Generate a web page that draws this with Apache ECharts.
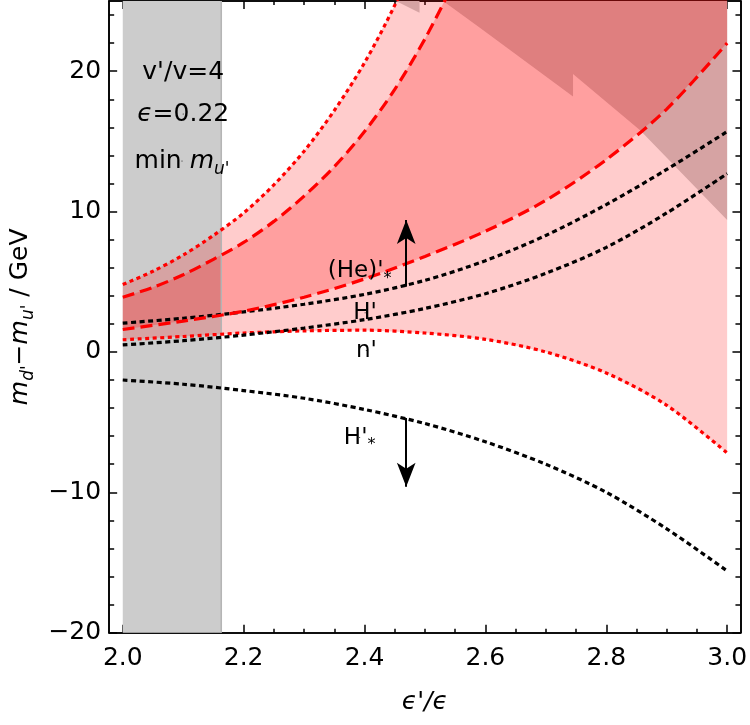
<!DOCTYPE html>
<html>
<head>
<meta charset="utf-8">
<script src="https://cdn.jsdelivr.net/npm/echarts@6/dist/echarts.min.js"></script>
<style>
  html, body { margin: 0; padding: 0; background: #fff; }
  #chart { width: 750px; height: 725px; }
</style>
</head>
<body>
<div id="chart"></div>
<script>
  // slow curves, read every 0.1
  var xs = [2.0, 2.1, 2.2, 2.3, 2.4, 2.5, 2.6, 2.7, 2.8, 2.9, 3.0];
  var heStar = [2.05, 2.4, 2.85, 3.4, 4.1, 5.1, 6.5, 8.3, 10.5, 13.0, 15.7];   // (He)'* black dotted
  var hPrime = [0.5, 0.8, 1.2, 1.7, 2.3, 3.1, 4.15, 5.6, 7.45, 9.9, 12.7];     // H' black dotted
  var hStar = [-2.0, -2.3, -2.75, -3.3, -4.1, -5.1, -6.4, -8.0, -10.0, -12.6, -15.6]; // H'* black dotted
  var nPrime = [0.87, 1.1, 1.35, 1.5, 1.55, 1.35, 0.9, 0.0, -1.5, -3.8, -7.2]; // n' red dotted
  var redDashLow = [1.6, 2.2, 2.9, 3.9, 5.2, 6.8, 8.6, 10.8, 13.7, 17.3, 22.0];
  // steep curves, read every 0.05
  var xsDotUp = [2.0, 2.05, 2.1, 2.15, 2.2, 2.25, 2.3, 2.35, 2.4, 2.45, 2.5];
  var redDotUp = [4.8, 5.75, 6.9, 8.3, 9.9, 11.9, 14.3, 17.2, 20.6, 24.7, 29.6];
  var xsDashUp = [2.0, 2.05, 2.1, 2.15, 2.2, 2.25, 2.3, 2.35, 2.4, 2.45, 2.5, 2.55];
  var redDashUp = [3.9, 4.6, 5.5, 6.6, 7.8, 9.3, 11.1, 13.2, 15.7, 18.7, 22.3, 26.5];
  // grey excluded regions
  var bandX = [2.0, 2.163];
  var greyEdgeX = [2.452, 2.491, 2.491, 2.530, 2.592, 2.745, 2.745, 2.856, 3.0];
  var greyEdgeY = [25, 24.17, 25, 25, 23.05, 18.19, 19.8, 15.8, 9.4];
  // ticks
  var xMajor = [2.0, 2.2, 2.4, 2.6, 2.8, 3.0];
  var xMinor = [];
  for (var k = 0; k <= 20; k++) xMinor.push(Math.round((2 + k * 0.05) * 100) / 100);
  var yMajor = [-20, -10, 0, 10, 20];
  var yMinor = [];
  for (var j = -20; j <= 24; j += 2) yMinor.push(j);
  // arrows
  var arrowX = 2.469;
  var arrowUp = [4.65, 9.4];
  var arrowDown = [-4.7, -9.6];

  var xMin = 1.9775, xMax = 3.022, yMin = -20, yMax = 25, yOver = 40;
  var font = 'DejaVu Sans';

  function pairs(x, y) {
    return x.map(function (v, i) { return [v, y[i]]; });
  }

  function polySeries(pts, color) {
    return {
      type: 'custom',
      z: 1,
      silent: true,
      data: [0],
      renderItem: function (params, api) {
        return {
          type: 'polygon',
          shape: { points: pts.map(function (p) { return api.coord(p); }) },
          style: { fill: color }
        };
      }
    };
  }

  function lineSeries(x, y, color, dash) {
    return {
      type: 'line',
      z: 3,
      data: pairs(x, y),
      showSymbol: false,
      symbol: 'none',
      smooth: 0.3,
      silent: true,
      lineStyle: { color: color, width: 3.2, type: dash }
    };
  }

  var bandPts = [[bandX[0], yMin], [bandX[1], yMin], [bandX[1], yMax], [bandX[0], yMax]];
  var greyPts = pairs(greyEdgeX, greyEdgeY).concat([[3.0, yMax], [2.452, yMax]]);
  var lightPts = pairs(xsDotUp, redDotUp).concat([[3.0, yOver]]).concat(pairs(xs, nPrime).reverse());
  var midPts = pairs(xsDashUp, redDashUp).concat([[3.0, yOver]]).concat(pairs(xs, redDashLow).reverse());

  var rich = {
    t: { fontSize: 25, fontFamily: font, color: '#000', lineHeight: 34 },
    i: { fontSize: 25, fontFamily: font, color: '#000', fontStyle: 'italic', lineHeight: 34 },
    s: { fontSize: 17, fontFamily: font, color: '#000', fontStyle: 'italic', lineHeight: 17, verticalAlign: 'bottom' },
    p: { fontSize: 23, fontFamily: font, color: '#000', lineHeight: 31 },
    ps: { fontSize: 16, fontFamily: font, color: '#000', lineHeight: 12, verticalAlign: 'bottom' }
  };

  var labels = [
    { value: [2.1, 19.94], label: { formatter: "{t|v'/v=4}" } },
    { value: [2.1, 16.95], label: { formatter: '{i|ϵ}{t|=0.22}' } },
    { value: [2.098, 13.6], label: { formatter: "{t|min }{i|m}{s|u'}" } },
    { value: [2.392, 5.75], label: { formatter: "{p|(He)'}{ps|*}" } },
    { value: [2.401, 2.79], label: { formatter: "{p|H'}" } },
    { value: [2.403, 0.1], label: { formatter: "{p|n'}" } },
    { value: [2.392, -6.1], label: { formatter: "{p|H'}{ps|*}" } }
  ];

  function xAxisCfg(pos, values, len, labelled) {
    return {
      type: 'value', position: pos, min: xMin, max: xMax,
      axisLine: { show: true, onZero: false, lineStyle: { color: '#000', width: 1.6 } },
      axisTick: { show: true, inside: true, length: len, customValues: values, lineStyle: { color: '#000', width: 1.5 } },
      axisLabel: {
        show: labelled, customValues: values, margin: 13,
        fontSize: 25, fontFamily: font, color: '#000',
        formatter: function (v) { return v.toFixed(1); }
      },
      splitLine: { show: false }
    };
  }

  function yAxisCfg(pos, values, len, labelled) {
    return {
      type: 'value', position: pos, min: yMin, max: yMax,
      axisLine: { show: true, onZero: false, lineStyle: { color: '#000', width: 1.6 } },
      axisTick: { show: true, inside: true, length: len, customValues: values, lineStyle: { color: '#000', width: 1.5 } },
      axisLabel: {
        show: labelled, customValues: values, margin: 8,
        fontSize: 25, fontFamily: font, color: '#000',
        formatter: function (v) { return v < 0 ? '\u2212' + Math.abs(v) : String(v); }
      },
      splitLine: { show: false }
    };
  }

  var xBottom = xAxisCfg('bottom', xMajor, 8, true);
  xBottom.name = "ϵ'/ϵ";
  xBottom.nameLocation = 'middle';
  xBottom.nameGap = 57;
  xBottom.nameTextStyle = { fontSize: 25, fontFamily: font, fontStyle: 'italic', color: '#000' };

  var yLeft = yAxisCfg('left', yMajor, 8, true);
  yLeft.name = "{i|m}{s|d'}{t|\u2212}{i|m}{s|u'}{t| / GeV}";
  yLeft.nameLocation = 'middle';
  yLeft.nameGap = 62;
  yLeft.nameTextStyle = { rich: rich };

  var chart = echarts.init(document.getElementById('chart'));
  chart.setOption({
    animation: false,
    backgroundColor: '#fff',
    grid: { left: 107.5, right: 9.3, top: 1, bottom: 92.3 },
    xAxis: [
      xBottom,
      xAxisCfg('bottom', xMinor, 4, false),
      xAxisCfg('top', xMajor, 8, false),
      xAxisCfg('top', xMinor, 4, false)
    ],
    yAxis: [
      yLeft,
      yAxisCfg('left', yMinor, 5, false),
      yAxisCfg('right', yMajor, 8, false),
      yAxisCfg('right', yMinor, 5, false)
    ],
    series: [
      polySeries(bandPts, '#cccccc'),
      polySeries(greyPts, '#cccccc'),
      polySeries(lightPts, 'rgba(255,0,0,0.2)'),
      polySeries(midPts, 'rgba(255,0,0,0.22)'),
      {
        type: 'line', z: 2, silent: true, symbol: 'none',
        data: [[bandX[1], yMin], [bandX[1], yMax]],
        lineStyle: { color: '#b5b5b5', width: 1.5 }
      },
      lineSeries(xs, hStar, '#000', [5, 3.5]),
      lineSeries(xs, nPrime, '#ff0000', [4, 3.5]),
      lineSeries(xs, hPrime, '#000', [5, 3.5]),
      lineSeries(xs, heStar, '#000', [5, 3.5]),
      lineSeries(xs, redDashLow, '#ff0000', [12, 6]),
      lineSeries(xsDashUp, redDashUp, '#ff0000', [12, 6]),
      lineSeries(xsDotUp, redDotUp, '#ff0000', [4, 3.5]),
      {
        type: 'scatter', z: 5, silent: true,
        symbolSize: 1,
        itemStyle: { color: '#000', opacity: 1 },
        label: { show: true, position: 'inside', color: '#000', opacity: 1, rich: rich },
        data: labels,
        markLine: {
          silent: true,
          symbol: ['none', 'arrow'],
          symbolSize: [14, 24],
          label: { show: false },
          lineStyle: { color: '#000', width: 2, type: 'solid', opacity: 1 },
          data: [
            [{ coord: [arrowX, arrowUp[0]] }, { coord: [arrowX, arrowUp[1]] }],
            [{ coord: [arrowX, arrowDown[0]] }, { coord: [arrowX, arrowDown[1]] }]
          ]
        }
      }
    ]
  });
</script>
</body>
</html>
